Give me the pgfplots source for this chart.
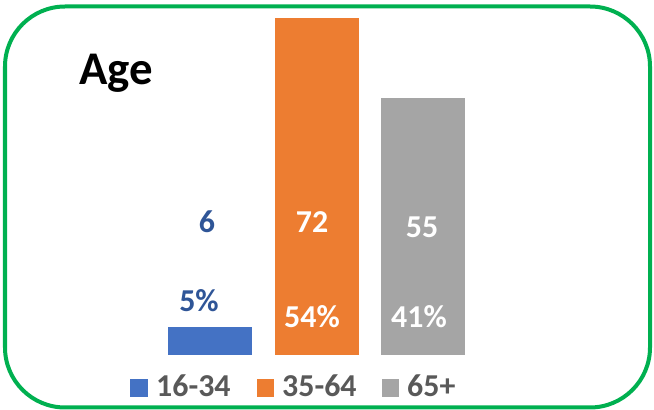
\documentclass[border=0pt]{standalone}
\usepackage{pgfplots}
\pgfplotsset{compat=1.18}
\usepackage{fontspec}
\setmainfont{Carlito}
\definecolor{cblue}{HTML}{4472C4}
\definecolor{corange}{HTML}{ED7D31}
\definecolor{cgray}{HTML}{A5A5A5}
\definecolor{lblue}{HTML}{2F5597}
\definecolor{cgreen}{HTML}{00B050}
\definecolor{ltext}{HTML}{595959}
\begin{document}
\begin{tikzpicture}
\path (0,0) rectangle (654bp,410bp);
\begin{axis}[
  at={(0,0)}, anchor=south west,
  scale only axis, width=654bp, height=410bp,
  xmin=-1.972, xmax=4.169, ymin=-11.75, ymax=75.85,
  hide axis, clip=false,
  ybar, bar width=84bp, bar shift=0pt,
]
\addplot[fill=cblue, draw=none] coordinates {(0,6)};
\addplot[fill=corange, draw=none] coordinates {(1,72)};
\addplot[fill=cgray, draw=none] coordinates {(2,55)};
\end{axis}
\begin{scope}[x=1bp, y=-1bp, shift={(0,410bp)}]
\draw[cgreen, line width=4bp, rounded corners=60bp] (5,6.5) rectangle (650,407.5);
\node[anchor=base west, inner sep=0pt, font=\fontsize{47}{50}\selectfont\bfseries] at (79,85) {Age};
\tikzset{lbl/.style={anchor=base, inner sep=0pt, font=\fontsize{32}{34}\selectfont\bfseries}}
\node[lbl, text=lblue] at (207,233) {6};
\node[lbl, text=lblue] at (199,312) {5\%};
\node[lbl, text=white] at (312,233) {72};
\node[lbl, text=white] at (312,328) {54\%};
\node[lbl, text=white] at (422,238) {55};
\node[lbl, text=white] at (419,328) {41\%};
\fill[cblue] (130,379) rectangle (148,397);
\fill[corange] (257,379) rectangle (274,397);
\fill[cgray] (382,379) rectangle (399,397);
\tikzset{leg/.style={anchor=base west, inner sep=0pt, text=ltext, font=\fontsize{32}{34}\selectfont\bfseries}}
\node[leg] at (156,397) {16-34};
\node[leg] at (282,397) {35-64};
\node[leg] at (407,397) {65+};
\end{scope}
\end{tikzpicture}
\end{document}
